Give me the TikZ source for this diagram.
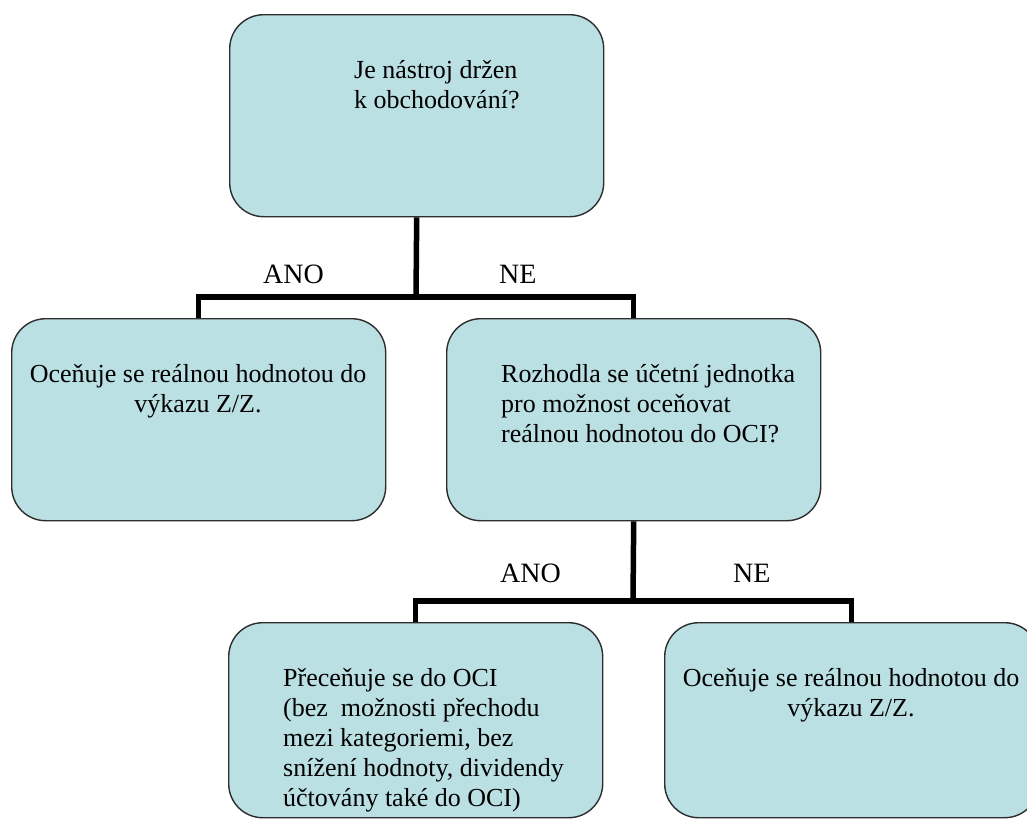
\documentclass[tikz,border=0pt]{standalone}
\usepackage{fontspec}
\setmainfont{Liberation Serif}
\definecolor{boxfill}{RGB}{187,224,228}
\definecolor{boxline}{RGB}{45,45,45}
\begin{document}
\begin{tikzpicture}[x=1pt,y=-1pt,
  box/.style={draw=boxline, line width=1.4pt, fill=boxfill, rounded corners=34pt,
    minimum width=374pt, minimum height=202pt, inner sep=0pt, anchor=north west},
  boxtext/.style={inner sep=0pt, font=\fontsize{26}{30}\selectfont},
  lbl/.style={inner sep=0pt, anchor=base west, font=\fontsize{28}{32}\selectfont},
  conn/.style={line width=5.5pt, draw=black}
]
\useasboundingbox (0,0) rectangle (1027,819);
\clip (0,0) rectangle (1027,819);

% boxes
\node[box] (top) at (229,14) {};
\node[box] (left) at (11,318) {};
\node[box] (mid) at (446,318) {};
\node[box, minimum height=195pt] (bl) at (228,622) {};
\node[box, minimum height=195pt] (br) at (664,622) {};

% texts
\node[boxtext, anchor=north west, align=left] (ttop) at (354,60)
  {Je nástroj držen\\k obchodování?};
\node[boxtext, anchor=north, align=center] (tleft) at (198,364)
  {Oceňuje se reálnou hodnotou do\\výkazu Z/Z.};
\node[boxtext, anchor=north west, align=left] (tmid) at (501,364)
  {Rozhodla se účetní jednotka\\pro možnost oceňovat\\reálnou hodnotou do OCI?};
\node[boxtext, anchor=north west, align=left] (tbl) at (283,668)
  {Přeceňuje se do OCI\\(bez\ \ možnosti přechodu\\mezi kategoriemi, bez\\snížení hodnoty, dividendy\\účtovány také do OCI)};
\node[boxtext, anchor=north, align=center] (tbr) at (851,668)
  {Oceňuje se reálnou hodnotou do\\výkazu Z/Z.};

% labels
\node[lbl] (ano1) at (263,283) {ANO};
\node[lbl] (ne1) at (499,283) {NE};
\node[lbl] (ano2) at (500,582) {ANO};
\node[lbl] (ne2) at (733,582) {NE};

% connectors
\coordinate (j1) at (416,297);
\coordinate (j2) at (633,601);
\draw[conn] (top.south) -- (j1);
\draw[conn] (left.north) |- (j1) -| (mid.north);
\draw[conn] (mid.south) -- (j2);
\draw[conn] (bl.north) |- (j2) -| (br.north);
\end{tikzpicture}
\end{document}
